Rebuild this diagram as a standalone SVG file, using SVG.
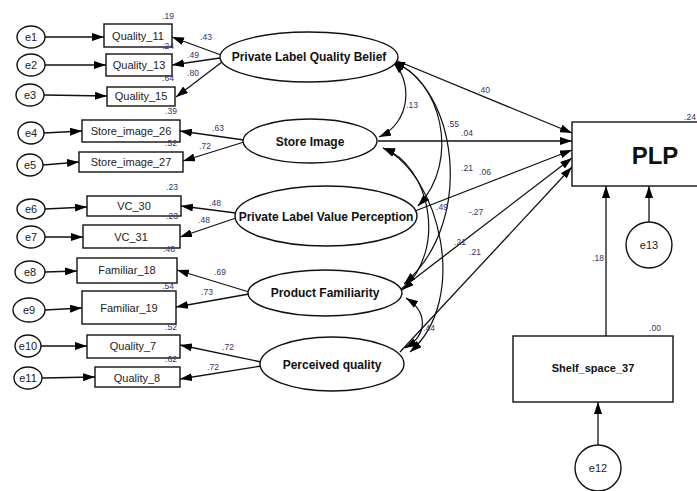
<svg xmlns="http://www.w3.org/2000/svg" width="697" height="491" viewBox="0 0 697 491">
<defs>
<marker id="ah" viewBox="0 0 12 8" refX="12" refY="4" markerWidth="12" markerHeight="8" markerUnits="userSpaceOnUse" orient="auto-start-reverse">
<path d="M0,0 L12,4 L0,8 Z" fill="#000"/>
</marker>
<style>
.bg{fill:#fff}
.sh{fill:#fff;stroke:#111;stroke-width:1.4}
.ln{fill:none;stroke:#111;stroke-width:1.3}
.ar{fill:none;stroke:#111;stroke-width:1.3;marker-end:url(#ah)}
.dbl{fill:none;stroke:#111;stroke-width:1.2;marker-start:url(#ah);marker-end:url(#ah)}
.t{font-family:"Liberation Sans",Arial,sans-serif;font-size:11px;fill:#222;text-anchor:middle;dominant-baseline:central}
.lt{font-family:"Liberation Sans",Arial,sans-serif;font-size:12px;font-weight:bold;fill:#111;text-anchor:middle;dominant-baseline:central}
.n{font-family:"Liberation Sans",Arial,sans-serif;font-size:8.5px;fill:#333366;text-anchor:middle;dominant-baseline:central}
</style>
</defs>
<rect class="bg" x="0" y="0" width="697" height="491"/>

<g id="connectors">
<!-- error to indicator -->
<line class="ar" x1="45" y1="37" x2="104" y2="37"/>
<line class="ar" x1="45" y1="65" x2="106" y2="65"/>
<line class="ar" x1="44" y1="95" x2="107" y2="96"/>
<line class="ar" x1="44" y1="133" x2="82" y2="131"/>
<line class="ar" x1="43" y1="165" x2="79" y2="162"/>
<line class="ar" x1="45" y1="209" x2="87" y2="207"/>
<line class="ar" x1="45" y1="237" x2="83" y2="237"/>
<line class="ar" x1="45" y1="272" x2="77" y2="271"/>
<line class="ar" x1="45" y1="310" x2="82" y2="308"/>
<line class="ar" x1="41" y1="346" x2="87" y2="346"/>
<line class="ar" x1="42" y1="378" x2="95" y2="377"/>
<!-- loadings -->
<line class="ar" x1="221" y1="55" x2="172" y2="37"/>
<line class="ar" x1="220" y1="58" x2="172" y2="65"/>
<line class="ar" x1="222" y1="62" x2="176" y2="97"/>
<line class="ar" x1="244" y1="140" x2="180" y2="131"/>
<line class="ar" x1="244" y1="142" x2="183" y2="161"/>
<line class="ar" x1="236" y1="213" x2="181" y2="206"/>
<line class="ar" x1="236" y1="218" x2="180" y2="237"/>
<line class="ar" x1="249" y1="292" x2="177" y2="270"/>
<line class="ar" x1="249" y1="294" x2="176" y2="307"/>
<line class="ar" x1="261" y1="362" x2="180" y2="345"/>
<line class="ar" x1="261" y1="366" x2="180" y2="379"/>
<!-- structural paths -->
<line class="ar" x1="395" y1="60" x2="572" y2="133"/>
<line class="ar" x1="378" y1="141" x2="572" y2="141"/>
<line class="ar" x1="415" y1="211" x2="572" y2="150"/>
<line class="ar" x1="401" y1="289" x2="572" y2="158"/>
<line class="ar" x1="400" y1="352" x2="572" y2="167"/>
<line class="ar" x1="606" y1="336" x2="606" y2="186"/>
<line class="ar" x1="649" y1="222" x2="649" y2="186"/>
<line class="ar" x1="598" y1="446" x2="598" y2="402"/>
<!-- correlations -->
<path class="dbl" d="M393,62 C412,80 412,122 379,137"/>
<path class="dbl" d="M393,62 C440,78 462,160 418,206"/>
<path class="dbl" d="M393,62 C455,85 478,220 404,284"/>
<path class="dbl" d="M383,148 C430,165 448,250 402,290"/>
<path class="dbl" d="M383,148 C440,175 470,300 410,352"/>
<path class="dbl" d="M406,298 C428,312 428,335 405,348"/>
</g>

<g id="e1"><ellipse class="sh" cx="31" cy="37" rx="14" ry="11"/><text class="t" x="31" y="37">e1</text></g>
<g id="e2"><ellipse class="sh" cx="31" cy="65" rx="14" ry="11"/><text class="t" x="31" y="65">e2</text></g>
<g id="e3"><ellipse class="sh" cx="30" cy="95" rx="14" ry="11"/><text class="t" x="30" y="95">e3</text></g>
<g id="e4"><ellipse class="sh" cx="31" cy="133" rx="13" ry="11"/><text class="t" x="31" y="133">e4</text></g>
<g id="e5"><ellipse class="sh" cx="30" cy="165" rx="13" ry="11"/><text class="t" x="30" y="165">e5</text></g>
<g id="e6"><ellipse class="sh" cx="31" cy="209" rx="14" ry="10"/><text class="t" x="31" y="209">e6</text></g>
<g id="e7"><ellipse class="sh" cx="31" cy="237" rx="14" ry="11"/><text class="t" x="31" y="237">e7</text></g>
<g id="e8"><ellipse class="sh" cx="30" cy="272" rx="15" ry="11"/><text class="t" x="30" y="272">e8</text></g>
<g id="e9"><ellipse class="sh" cx="29" cy="310" rx="16" ry="12"/><text class="t" x="29" y="310">e9</text></g>
<g id="e10"><ellipse class="sh" cx="28" cy="346" rx="13" ry="11"/><text class="t" x="28" y="346">e10</text></g>
<g id="e11"><ellipse class="sh" cx="28" cy="378" rx="14" ry="11"/><text class="t" x="28" y="378">e11</text></g>

<g id="Quality_11"><rect class="sh" x="104" y="24" width="68" height="23"/><text class="t" x="138" y="36">Quality_11</text></g>
<g id="Quality_13"><rect class="sh" x="106" y="54" width="66" height="22"/><text class="t" x="139" y="65">Quality_13</text></g>
<g id="Quality_15"><rect class="sh" x="107" y="87" width="68" height="19"/><text class="t" x="141" y="96">Quality_15</text></g>
<g id="Store_image_26"><rect class="sh" x="82" y="120" width="98" height="22"/><text class="t" x="131" y="131">Store_image_26</text></g>
<g id="Store_image_27"><rect class="sh" x="79" y="152" width="104" height="20"/><text class="t" x="131" y="162">Store_image_27</text></g>
<g id="VC_30"><rect class="sh" x="87" y="196" width="94" height="20"/><text class="t" x="134" y="206">VC_30</text></g>
<g id="VC_31"><rect class="sh" x="83" y="225" width="97" height="23"/><text class="t" x="131" y="237">VC_31</text></g>
<g id="Familiar_18"><rect class="sh" x="77" y="258" width="100" height="25"/><text class="t" x="127" y="270">Familiar_18</text></g>
<g id="Familiar_19"><rect class="sh" x="82" y="291" width="94" height="33"/><text class="t" x="129" y="308">Familiar_19</text></g>
<g id="Quality_7"><rect class="sh" x="87" y="335" width="93" height="23"/><text class="t" x="133" y="346">Quality_7</text></g>
<g id="Quality_8"><rect class="sh" x="95" y="367" width="85" height="20"/><text class="t" x="137" y="378">Quality_8</text></g>

<g id="PLQB"><ellipse class="sh" cx="309" cy="57" rx="89" ry="25"/><text class="lt" x="309" y="57">Private Label Quality Belief</text></g>
<g id="SI"><ellipse class="sh" cx="310" cy="141" rx="67" ry="22"/><text class="lt" x="310" y="142">Store Image</text></g>
<g id="PLVP"><ellipse class="sh" cx="326" cy="216" rx="91" ry="30"/><text class="lt" x="326" y="217">Private Label Value Perception</text></g>
<g id="PF"><ellipse class="sh" cx="325" cy="293" rx="77" ry="23"/><text class="lt" x="325" y="293">Product Familiarity</text></g>
<g id="PQ"><ellipse class="sh" cx="332" cy="364" rx="72" ry="27"/><text class="lt" x="332" y="365">Perceived quality</text></g>

<g id="PLP"><rect class="sh" x="572" y="122" width="130" height="64"/><text class="lt" x="655" y="155" style="font-size:24px">PLP</text></g>
<g id="e13"><circle class="sh" cx="649" cy="245" r="23"/><text class="t" x="649" y="245">e13</text></g>
<g id="Shelf_space_37"><rect class="sh" x="513" y="336" width="160" height="66"/><text class="lt" x="593" y="368" style="font-size:11px">Shelf_space_37</text></g>
<g id="e12"><circle class="sh" cx="598" cy="468" r="23"/><text class="t" x="598" y="468">e12</text></g>

<g id="labels">
<text class="n" x="168" y="16">.19</text>
<text class="n" x="168" y="46">.24</text>
<text class="n" x="168" y="78">.64</text>
<text class="n" x="171" y="111">.39</text>
<text class="n" x="171" y="143">.52</text>
<text class="n" x="172" y="187">.23</text>
<text class="n" x="172" y="216">.23</text>
<text class="n" x="169" y="249">.48</text>
<text class="n" x="168" y="286">.54</text>
<text class="n" x="171" y="327">.52</text>
<text class="n" x="171" y="359">.62</text>
<text class="n" x="206" y="37">.43</text>
<text class="n" x="193" y="55">.49</text>
<text class="n" x="193" y="73">.80</text>
<text class="n" x="218" y="128">.63</text>
<text class="n" x="205" y="146">.72</text>
<text class="n" x="215" y="203">.48</text>
<text class="n" x="204" y="220">.48</text>
<text class="n" x="220" y="272">.69</text>
<text class="n" x="207" y="292">.73</text>
<text class="n" x="228" y="347">.72</text>
<text class="n" x="213" y="367">.72</text>
<text class="n" x="412" y="105">.13</text>
<text class="n" x="453" y="124">.55</text>
<text class="n" x="467" y="168">.21</text>
<text class="n" x="442" y="207">.49</text>
<text class="n" x="460" y="242">.21</text>
<text class="n" x="429" y="328">.44</text>
<text class="n" x="484" y="90">.40</text>
<text class="n" x="467" y="133">.04</text>
<text class="n" x="485" y="172">.06</text>
<text class="n" x="476" y="212">-.27</text>
<text class="n" x="475" y="252">.21</text>
<text class="n" x="598" y="258">.18</text>
<text class="n" x="690" y="117">.24</text>
<text class="n" x="655" y="328">.00</text>
</g>
</svg>
